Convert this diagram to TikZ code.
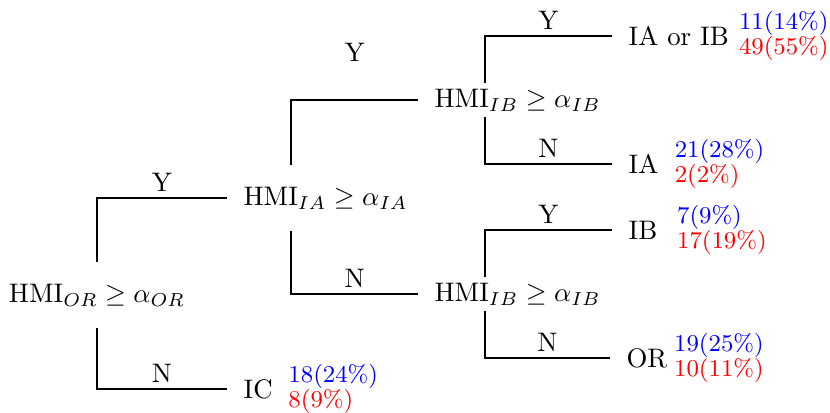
\documentclass[tikz,border=0pt]{standalone}
\usepackage{xcolor}
\usepackage{amsmath}
\usepackage{amssymb}
\usepackage{tikz}
\usetikzlibrary{positioning}
\tikzset{
  cond/.style={inner xsep=6pt, inner ysep=0pt, minimum height=24.5pt},
  condsm/.style={inner xsep=6pt, inner ysep=0pt, minimum height=12.5pt},
  leaf/.style={inner xsep=6pt, inner ysep=0pt, anchor=west},
  stats/.style={font=\small, align=left, inner sep=0pt},
  answ/.style={above, inner sep=2pt},
  branch/.style={line width=0.7pt},
}

\begin{document}
\begin{tikzpicture}[x=0.3731pt, y=-0.3731pt]
\useasboundingbox (0,0) rectangle (830,412);

% tests
\node[cond] (root) at (97,295) {HMI$_{OR} \geq \alpha_{OR}$};
\node[cond, anchor=west] (ia) at (227,198) {HMI$_{IA} \geq \alpha_{IA}$};
\node[condsm, anchor=west] (ibup) at (418,100) {HMI$_{IB} \geq \alpha_{IB}$};
\node[condsm, anchor=west] (iblo) at (418,294) {HMI$_{IB} \geq \alpha_{IB}$};

% leaves
\node[leaf] (ic) at (227,389) {IC};
\node[leaf] (iaorib) at (612,36) {IA or IB};
\node[leaf] (iaonly) at (612,164) {IA};
\node[leaf] (ibonly) at (612,230) {IB};
\node[leaf] (oronly) at (610,358) {OR};

% counts
\node[stats, right=-0.5pt of ic] (icn) {\textcolor{blue}{18(24\%)}\\[-1.7pt]\textcolor{red}{8(9\%)}};
\node[stats, right=-2.6pt of iaorib] (iaoribn) {\textcolor{blue}{11(14\%)}\\[-1.7pt]\textcolor{red}{49(55\%)}};
\node[stats, right=-0.3pt of iaonly] (iaonlyn) {\textcolor{blue}{21(28\%)}\\[-1.7pt]\textcolor{red}{2(2\%)}};
\node[stats, right=1pt of ibonly] (ibonlyn) {\textcolor{blue}{7(9\%)}\\[-1.7pt]\textcolor{red}{17(19\%)}};
\node[stats, right=-3.8pt of oronly] (oronlyn) {\textcolor{blue}{19(25\%)}\\[-1.7pt]\textcolor{red}{10(11\%)}};

% branches
\draw[branch] (root.north) |- node[answ, pos=0.75] {Y} (ia.west);
\draw[branch] (root.south) |- node[answ, pos=0.75] {N} (ic.west);
\draw[branch] ([xshift=24pt]ia.north west) |- node[answ, above=12pt, pos=0.75] {Y} (ibup.west);
\draw[branch] ([xshift=24pt]ia.south west) |- node[answ, pos=0.75] {N} (iblo.west);
\draw[branch] ([xshift=25pt]ibup.north west) |- node[answ, pos=0.75] {Y} (iaorib.west);
\draw[branch] ([xshift=25pt]ibup.south west) |- node[answ, pos=0.75] {N} (iaonly.west);
\draw[branch] ([xshift=25pt]iblo.north west) |- node[answ, pos=0.75] {Y} (ibonly.west);
\draw[branch] ([xshift=25pt]iblo.south west) |- node[answ, pos=0.75] {N} (oronly.west);

\end{tikzpicture}
\end{document}
